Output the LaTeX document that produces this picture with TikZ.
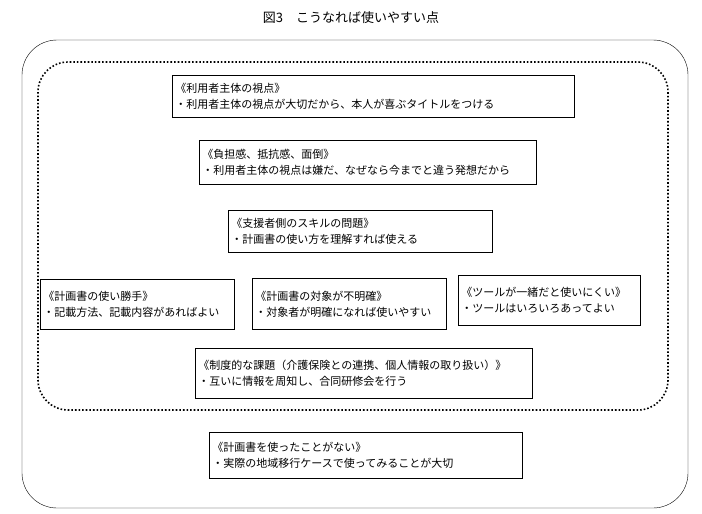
\documentclass[tikz,border=0pt]{standalone}
\usepackage{fontspec}
\setmainfont{Noto Sans CJK JP}
\usepackage{xcolor}

\begin{document}
\begin{tikzpicture}[x=1pt,y=1pt,yscale=-1,xscale=1,
  memo/.style={draw,line width=0.8pt,anchor=north west,inner sep=3pt,align=left,font=\fontsize{11}{16}\selectfont}]

\useasboundingbox (0,0) rectangle (702,514);

\draw (351,18) node [font=\fontsize{13}{15}\selectfont] (title) {図3\quad こうなれば使いやすい点};

\draw [rounded corners=35] (22,40) rectangle (688,508);
\draw [line width=1.6pt,dotted,rounded corners=30] (38,62) rectangle (668,410);

\node [memo,text width=396pt,minimum height=42pt] (shiten) at (172,75) {《利用者主体の視点》\\・利用者主体の視点が大切だから、本人が喜ぶタイトルをつける};
\node [memo,text width=331pt,minimum height=44pt] (futan) at (199,140) {《負担感、抵抗感、面倒》\\・利用者主体の視点は嫌だ、なぜなら今までと違う発想だから};
\node [memo,text width=258pt,minimum height=42pt] (skill) at (228,210) {《支援者側のスキルの問題》\\・計画書の使い方を理解すれば使える};
\node [memo,text width=188pt,minimum height=50pt] (katte) at (40,279) {《計画書の使い勝手》\\・記載方法、記載内容があればよい};
\node [memo,text width=188pt,minimum height=51pt] (taisho) at (252,278) {《計画書の対象が不明確》\\・対象者が明確になれば使いやすい};
\node [memo,text width=176pt,minimum height=50pt] (tool) at (458,275) {《ツールが一緒だと使いにくい》\\・ツールはいろいろあってよい};
\node [memo,text width=331pt,minimum height=50pt] (seido) at (195,348) {《制度的な課題（介護保険との連携、個人情報の取り扱い）》\\・互いに情報を周知し、合同研修会を行う};
\node [memo,text width=307pt,minimum height=46pt] (mishiyo) at (209,432) {《計画書を使ったことがない》\\・実際の地域移行ケースで使ってみることが大切};

\end{tikzpicture}
\end{document}
